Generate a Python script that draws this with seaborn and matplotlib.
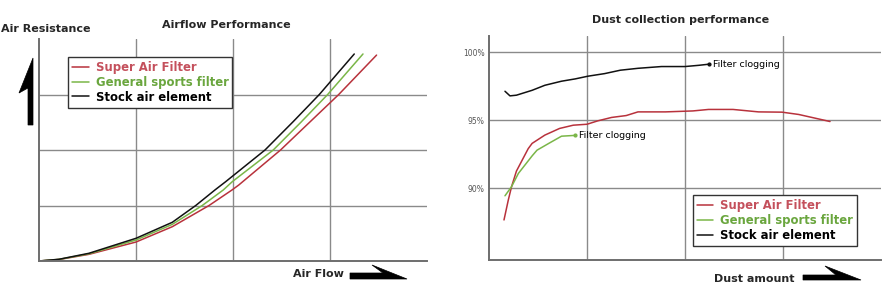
import matplotlib
matplotlib.use("Agg")
import matplotlib.pyplot as plt
from matplotlib.patches import Polygon
from matplotlib.lines import Line2D
import seaborn as sns

sns.set_theme(style="white")
plt.rcParams['font.family'] = ['DejaVu Sans']

# ---- Airflow performance data (grid units) ----
air_stock_x = [0, 0.206, 0.515, 1.0, 1.374, 1.616, 1.814, 1.925, 2.33, 2.62, 2.89, 3.25]
air_stock_y = [0, 0.031, 0.139, 0.409, 0.697, 1.0, 1.28, 1.43, 2.0, 2.51, 3.0, 3.73]
air_general_x = [0, 0.206, 0.515, 1.0, 1.374, 1.683, 1.90, 1.993, 2.415, 2.70, 2.976, 3.34]
air_general_y = [0, 0.029, 0.13, 0.378, 0.66, 1.0, 1.28, 1.43, 2.0, 2.5, 3.0, 3.73]
air_super_x = [0, 0.206, 0.515, 1.0, 1.374, 1.753, 1.99, 2.06, 2.49, 2.79, 3.09, 3.48]
air_super_y = [0, 0.027, 0.12, 0.342, 0.618, 1.0, 1.28, 1.37, 2.0, 2.5, 3.0, 3.71]

# ---- Dust collection data (% efficiency) ----
dust_stock_x = [0.163, 0.214, 0.28, 0.44, 0.57, 0.74, 0.88, 1.01, 1.18, 1.34, 1.52, 1.76, 2.0, 2.14, 2.24]
dust_stock_y = [97.13, 96.79, 96.84, 97.2, 97.57, 97.87, 98.04, 98.24, 98.43, 98.68, 98.82, 98.95, 98.95, 99.04, 99.12]
dust_super_x = [0.153, 0.197, 0.23, 0.28, 0.40, 0.44, 0.57, 0.72, 0.86, 1.0, 1.11, 1.25, 1.40, 1.52, 1.80, 2.08, 2.24, 2.49, 2.75, 2.99, 3.16, 3.48]
dust_super_y = [87.65, 89.12, 90.1, 91.25, 92.9, 93.29, 93.9, 94.39, 94.63, 94.7, 94.95, 95.2, 95.34, 95.61, 95.61, 95.68, 95.79, 95.79, 95.61, 95.59, 95.42, 94.9]
dust_general_x = [0.163, 0.23, 0.30, 0.44, 0.49, 0.61, 0.74, 0.88]
dust_general_y = [89.43, 90.1, 91.08, 92.37, 92.79, 93.29, 93.82, 93.88]

series_names = ["Super Air Filter", "General sports filter", "Stock air element"]
line_colors = ["#b8323c", "#7ab648", "#111111"]
text_colors = ["#c4505c", "#6aa63e", "#000000"]
y_ticks = [90, 95, 100]
y_tick_labels = ["90%", "95%", "100%"]

fig = plt.figure(figsize=(8.89, 3.0), dpi=100)
W, H = 889, 300

def ax_rect(x0, x1, ytop, ybot):
    return [x0 / W, 1 - ybot / H, (x1 - x0) / W, (ybot - ytop) / H]

ax1 = fig.add_axes(ax_rect(39, 427, 39, 261))
ax2 = fig.add_axes(ax_rect(489, 881, 36, 260))

grid_kw = dict(color="#8a8a8a", lw=1.0)

def style_ax(ax):
    for s in ["top", "right"]:
        ax.spines[s].set_visible(False)
    for s in ["left", "bottom"]:
        ax.spines[s].set_color("#6e6e6e")
        ax.spines[s].set_linewidth(1.4)
    ax.grid(True, **grid_kw)
    ax.set_axisbelow(True)
    ax.set_xlabel("")
    ax.set_ylabel("")

# Left chart
for xs, ys, c in [(air_super_x, air_super_y, line_colors[0]),
                  (air_general_x, air_general_y, line_colors[1]),
                  (air_stock_x, air_stock_y, line_colors[2])]:
    sns.lineplot(x=xs, y=ys, ax=ax1, color=c, lw=1.1, sort=False, legend=False)
ax1.set_xlim(0, 4)
ax1.set_ylim(0, 4)
ax1.set_xticks([1, 2, 3])
ax1.set_yticks([1, 2, 3])
ax1.set_xticklabels([])
ax1.set_yticklabels([])
ax1.tick_params(length=0)
style_ax(ax1)

# Right chart
for xs, ys, c in [(dust_super_x, dust_super_y, line_colors[0]),
                  (dust_general_x, dust_general_y, line_colors[1]),
                  (dust_stock_x, dust_stock_y, line_colors[2])]:
    sns.lineplot(x=xs, y=ys, ax=ax2, color=c, lw=1.1, sort=False, legend=False)
ax2.plot(dust_stock_x[-1], dust_stock_y[-1], "o", color=line_colors[2], ms=2)
ax2.plot(dust_general_x[-1], dust_general_y[-1], "o", color=line_colors[1], ms=2)
ax2.annotate("Filter clogging", (dust_stock_x[-1], dust_stock_y[-1]), xytext=(3, 0),
             textcoords="offset points", va="center", ha="left", fontsize=6.8, color="black")
ax2.annotate("Filter clogging", (dust_general_x[-1], dust_general_y[-1]), xytext=(3, 0),
             textcoords="offset points", va="center", ha="left", fontsize=6.8, color="black")
ax2.set_xlim(0, 4)
ax2.set_ylim(84.7, 101.2)
ax2.set_xticks([1, 2, 3])
ax2.set_xticklabels([])
ax2.set_yticks(y_ticks)
ax2.set_yticklabels(y_tick_labels)
ax2.tick_params(axis="x", length=0)
ax2.tick_params(axis="y", length=4, direction="inout", color="#6e6e6e", width=1.4,
                labelsize=5.5, labelcolor="#555555", pad=1)
style_ax(ax2)

# Legends
def make_legend(ax, anchor):
    handles = [Line2D([0], [0], color=c, lw=1.1) for c in line_colors]
    leg = ax.legend(handles, series_names, loc="upper left", bbox_to_anchor=anchor,
                    borderaxespad=0, frameon=True, fancybox=False, handlelength=1.4,
                    handletextpad=0.6, labelspacing=0.15, borderpad=0.35,
                    prop={"size": 8.4, "weight": "bold"})
    fr = leg.get_frame()
    fr.set_edgecolor("#333333")
    fr.set_linewidth(1.0)
    fr.set_facecolor("white")
    fr.set_alpha(1)
    for t, c in zip(leg.get_texts(), text_colors):
        t.set_color(c)
    return leg

make_legend(ax1, (0.075, 0.919))
make_legend(ax2, (0.52, 0.29))

# Titles and axis words
fig.text(226 / W, 1 - 25 / H, "Airflow Performance", ha="center", va="center",
         fontsize=8, fontweight="bold")
fig.text(1 / W, 1 - 29 / H, "Air Resistance", ha="left", va="center",
         fontsize=8, fontweight="bold")
fig.text(318 / W, 1 - 274 / H, "Air Flow", ha="center", va="center",
         fontsize=8, fontweight="bold")
fig.text(681 / W, 1 - 20 / H, "Dust collection performance", ha="center", va="center",
         fontsize=8, fontweight="bold")
fig.text(754 / W, 1 - 279 / H, "Dust amount", ha="center", va="center",
         fontsize=8, fontweight="bold")

def fig_poly(pts):
    xy = [(x / W, 1 - y / H) for x, y in pts]
    fig.add_artist(Polygon(xy, closed=True, transform=fig.transFigure,
                           facecolor="black", edgecolor="black", lw=0.5))

# Up arrow (half head)
fig_poly([(33, 58), (33, 125), (28, 125), (28, 88), (19, 93)])
# Right arrows (half head)
fig_poly([(350, 273), (383, 273), (372, 265), (407, 279), (350, 279)])
fig_poly([(803, 275), (836, 275), (825, 266), (861, 280), (803, 280)])

fig.savefig("out.png", dpi=100)
